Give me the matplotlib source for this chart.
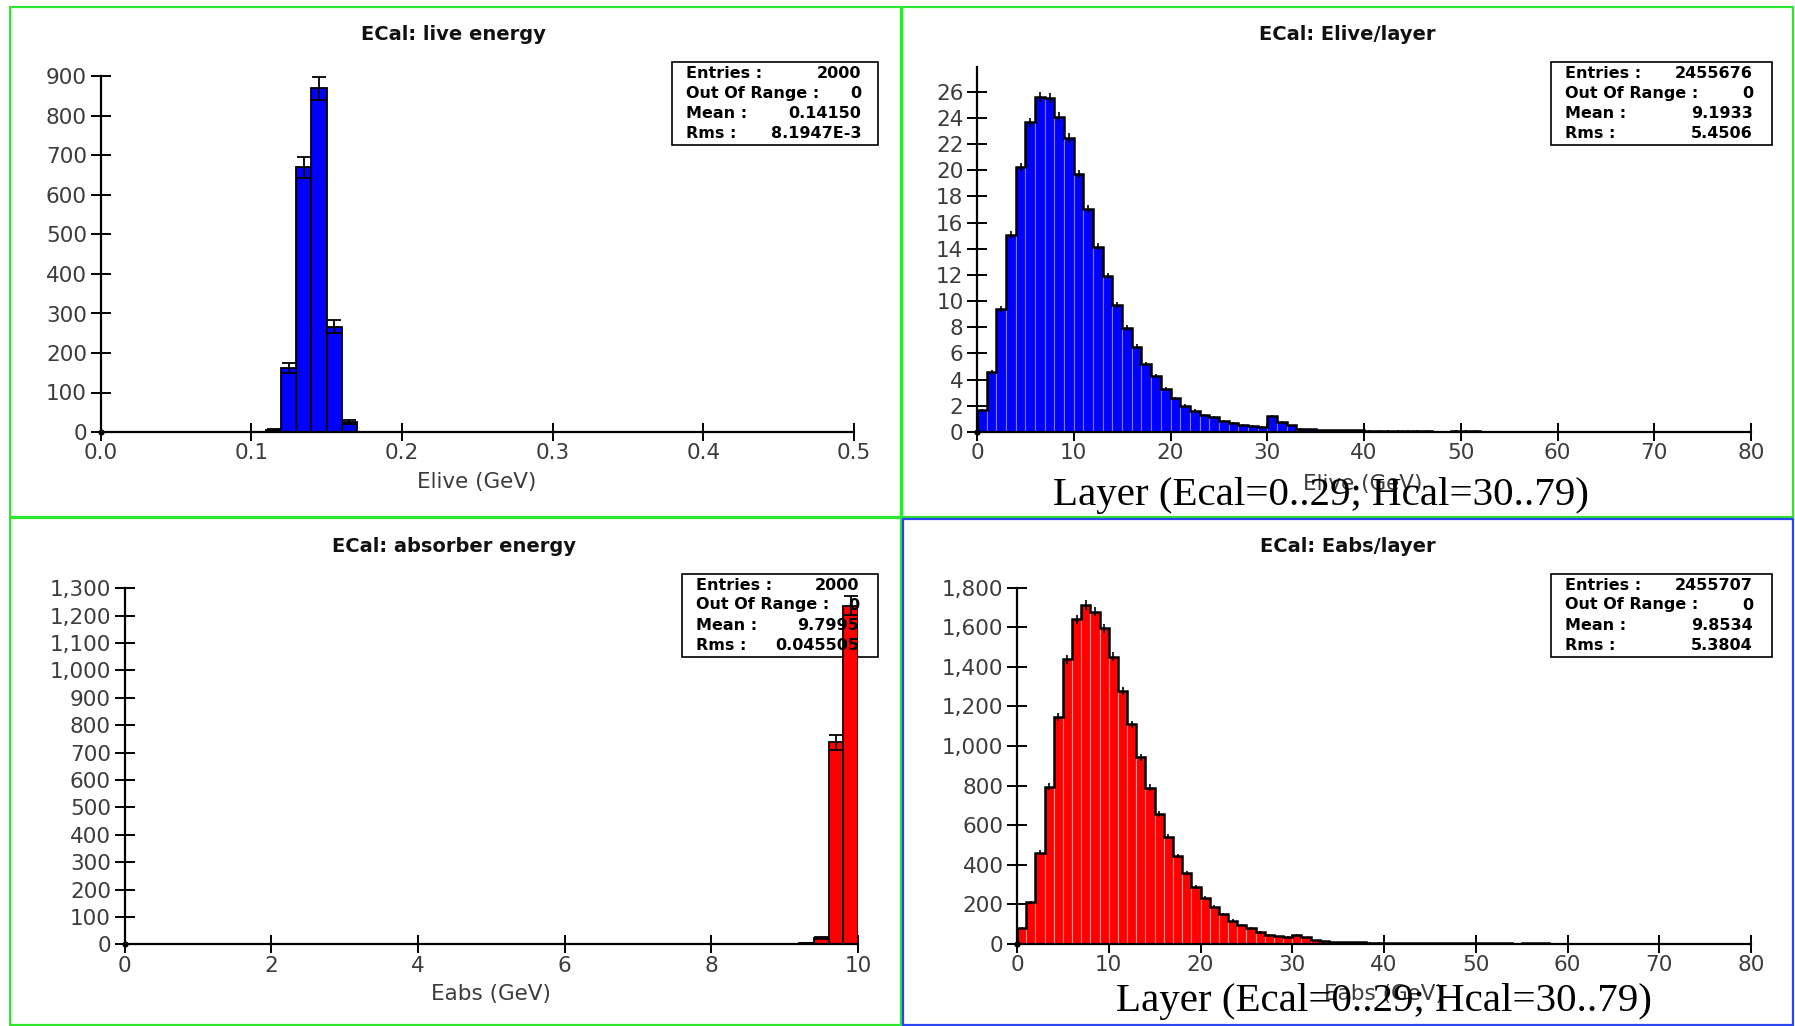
import numpy as np
import matplotlib
matplotlib.use("Agg")
import matplotlib.pyplot as plt
from matplotlib.patches import Rectangle
from matplotlib.ticker import FuncFormatter, FixedLocator

W, H = 1795, 1026

# ---------------- data ----------------
# ECal live energy (GeV), fixed-width bins
live_edges = [0.11, 0.12, 0.13, 0.14, 0.15, 0.16, 0.17]
live_counts = [5, 162, 670, 870, 267, 26]

# ECal absorber energy (GeV)
abs_edges = [9.2, 9.4, 9.6, 9.8, 10.0]
abs_counts = [3, 23, 737, 1237]

# Energy-weighted layer profiles, one bin per layer (0..79)
elive_layer = [1.68, 4.61, 9.37, 15.05, 20.22, 23.66, 25.62, 25.52, 24.09, 22.46,
               19.71, 17.01, 14.16, 11.92, 9.70, 7.95, 6.52, 5.19, 4.30, 3.28,
               2.57, 2.01, 1.63, 1.30, 1.12, 0.87, 0.71, 0.53, 0.48, 0.41,
               1.22, 0.74, 0.51, 0.25, 0.23, 0.15, 0.14, 0.13, 0.12, 0.12,
               0.11, 0.10, 0.10, 0.10, 0.10, 0.10, 0.10, 0.0, 0.0, 0.10,
               0.10, 0.10]
eabs_layer = [79, 210, 461, 795, 1148, 1438, 1640, 1712, 1679, 1594,
              1451, 1280, 1110, 943, 790, 655, 542, 445, 360, 290,
              234, 189, 150, 118, 94, 81, 62, 45, 39, 35,
              47, 34, 20, 15, 10, 9, 8, 8, 7, 7,
              6, 6, 6, 5, 5, 5, 5, 5, 5, 5,
              5, 5, 3, 5, 0, 5, 5, 3]
n_layers = 80
elive_layer = elive_layer + [0.0] * (n_layers - len(elive_layer))
eabs_layer = eabs_layer + [0.0] * (n_layers - len(eabs_layer))
# mean weight per entry, used for the weighted-bin uncertainties
elive_weight = 0.0056
eabs_weight = 0.325

stats_live = [("Entries :", "2000"), ("Out Of Range :", "0"),
              ("Mean :", "0.14150"), ("Rms :", "8.1947E-3")]
stats_elive_layer = [("Entries :", "2455676"), ("Out Of Range :", "0"),
                     ("Mean :", "9.1933"), ("Rms :", "5.4506")]
stats_abs = [("Entries :", "2000"), ("Out Of Range :", "0"),
             ("Mean :", "9.7995"), ("Rms :", "0.045505")]
stats_eabs_layer = [("Entries :", "2455707"), ("Out Of Range :", "0"),
                    ("Mean :", "9.8534"), ("Rms :", "5.3804")]

layer_caption = "Layer (Ecal=0..29; Hcal=30..79)"

# ---------------- figure ----------------
fig = plt.figure(figsize=(W / 100, H / 100), dpi=100)
fig.patch.set_facecolor("white")


def fx(x):
    return x / W


def fy(y):
    return 1 - y / H


def make_axes(l, r, t, b):
    return fig.add_axes([fx(l), fy(b), (r - l) / W, (b - t) / H])


TICK_COLOR = "#3c3c3c"
BLUE = "#0000ff"
RED = "#ff0000"


def style(ax, xlim, ylim, xticks, yticks, xfmt, yfmt):
    ax.set_xlim(*xlim)
    ax.set_ylim(*ylim)
    for s in ("top", "right"):
        ax.spines[s].set_visible(False)
    for s in ("left", "bottom"):
        ax.spines[s].set_linewidth(1.6)
        ax.spines[s].set_color("black")
    ax.xaxis.set_major_locator(FixedLocator(xticks))
    ax.yaxis.set_major_locator(FixedLocator(yticks))
    ax.xaxis.set_major_formatter(FuncFormatter(xfmt))
    ax.yaxis.set_major_formatter(FuncFormatter(yfmt))
    ax.tick_params(axis="x", direction="inout", length=12.5, width=1.4,
                   labelsize=15.5, labelcolor=TICK_COLOR, pad=2)
    ax.tick_params(axis="y", direction="inout", length=14.5, width=1.4,
                   labelsize=15.5, labelcolor=TICK_COLOR, pad=2.5)
    ax.plot([xlim[0]], [0], "o", color="black", ms=3.5, clip_on=False, zorder=7)


def stats_box(ax, rect, lines, xl, xr, ys):
    x0, x1, y0, y1 = rect
    box = Rectangle((fx(x0), fy(y1)), (x1 - x0) / W, (y1 - y0) / H,
                    transform=fig.transFigure, facecolor="white",
                    edgecolor="black", linewidth=1.2, zorder=0.5, clip_on=False)
    ax.add_patch(box)
    for (lab, val), y in zip(lines, ys):
        ax.text(fx(xl), fy(y), lab, transform=fig.transFigure, ha="left",
                va="center", fontsize=11.5, fontweight="bold", zorder=8,
                clip_on=False)
        ax.text(fx(xr), fy(y), val, transform=fig.transFigure, ha="right",
                va="center", fontsize=11.5, fontweight="bold", zorder=8,
                clip_on=False)


def title(x, y, s):
    fig.text(fx(x), fy(y), s, ha="center", va="center", fontsize=14,
             fontweight="bold", color="#111111")


def xlabel(x, y, s):
    fig.text(fx(x), fy(y), s, ha="center", va="center", fontsize=15.5,
             color="#3c3c3c")


def comma(v, p):
    return f"{int(round(v)):,}"


def plain_int(v, p):
    return f"{int(round(v))}"


def one_dec(v, p):
    return f"{v:.1f}"


def count_hist(ax, edges, counts, color):
    edges = np.asarray(edges, float)
    counts = np.asarray(counts, float)
    ax.bar(edges[:-1], counts, width=np.diff(edges), align="edge",
           color=color, edgecolor="black", linewidth=1.3, zorder=2)
    centers = 0.5 * (edges[:-1] + edges[1:])
    ax.errorbar(centers, counts, yerr=np.sqrt(counts), fmt="none",
                ecolor="black", elinewidth=1.3, capsize=5, capthick=1.3,
                zorder=3)


def layer_hist(ax, values, weight, color, light):
    values = np.asarray(values, float)
    edges = np.arange(len(values) + 1, dtype=float)
    ax.bar(edges[:-1], values, width=1.0, align="edge", color=color,
           edgecolor=light, linewidth=0.8, zorder=2)
    ax.stairs(values, edges, color="black", linewidth=1.8, zorder=3)
    centers = edges[:-1] + 0.5
    err = np.sqrt(values * weight)
    ax.errorbar(centers, values, yerr=err, fmt="none", ecolor="black",
                elinewidth=1.2, capsize=0, zorder=4)


# ---- top left: live energy ----
ax1 = make_axes(100.5, 854, 76.5, 432)
count_hist(ax1, live_edges, live_counts, BLUE)
style(ax1, (0, 0.5), (0, 900), np.arange(0, 0.51, 0.1), np.arange(0, 901, 100),
      one_dec, plain_int)
stats_box(ax1, (672, 878, 62, 145), stats_live, 686, 861, [73, 94, 114, 134])
title(453.5, 35, "ECal: live energy")
xlabel(477, 482, "Elive (GeV)")

# ---- top right: Elive per layer ----
ax2 = make_axes(977, 1751, 66.8, 432)
layer_hist(ax2, elive_layer, elive_weight, BLUE, "#7a7aff")
style(ax2, (0, 80), (0, 27.9), np.arange(0, 81, 10), np.arange(0, 27, 2),
      plain_int, plain_int)
stats_box(ax2, (1551, 1772, 62, 145), stats_elive_layer, 1565, 1753,
          [73, 94, 114, 134])
title(1347.5, 35, "ECal: Elive/layer")
xlabel(1363, 484, "Elive (GeV)")

# ---- bottom left: absorber energy ----
ax3 = make_axes(124.5, 858, 588.3, 944.3)
count_hist(ax3, abs_edges, abs_counts, RED)
style(ax3, (0, 10), (0, 1300), np.arange(0, 11, 2), np.arange(0, 1301, 100),
      plain_int, comma)
stats_box(ax3, (682, 878, 574, 657), stats_abs, 696, 859, [585, 605, 625, 645])
title(454.5, 547, "ECal: absorber energy")
xlabel(491, 994, "Eabs (GeV)")

# ---- bottom right: Eabs per layer ----
ax4 = make_axes(1017, 1751, 587.7, 944)
layer_hist(ax4, eabs_layer, eabs_weight, RED, "#ff8a8a")
style(ax4, (0, 80), (0, 1800), np.arange(0, 81, 10), np.arange(0, 1801, 200),
      plain_int, comma)
stats_box(ax4, (1551, 1772, 574, 657), stats_eabs_layer, 1565, 1753,
          [585, 605, 625, 645])
title(1347.5, 547, "ECal: Eabs/layer")
xlabel(1384, 994, "Eabs (GeV)")

# layer captions written over the per-layer plots
for cx, cy in ((1321, 495), (1384, 1002)):
    fig.text(fx(cx), fy(cy), layer_caption, ha="center", va="center",
             fontsize=29.5, family=["Liberation Serif", "DejaVu Serif"],
             color="black", zorder=10)

# panel frames
GREEN = "#2ee62e"
FRAME_BLUE = "#2a46f0"
frames = [((10, 901, 7, 517), GREEN), ((902, 1793, 7, 517), GREEN),
          ((10, 901, 518, 1025), GREEN), ((903, 1793, 519, 1025), FRAME_BLUE)]
for (x0, x1, y0, y1), c in frames:
    fig.add_artist(Rectangle((fx(x0), fy(y1)), (x1 - x0) / W, (y1 - y0) / H,
                             transform=fig.transFigure, fill=False,
                             edgecolor=c, linewidth=1.6, zorder=11))

fig.savefig("out.png", dpi=100)
